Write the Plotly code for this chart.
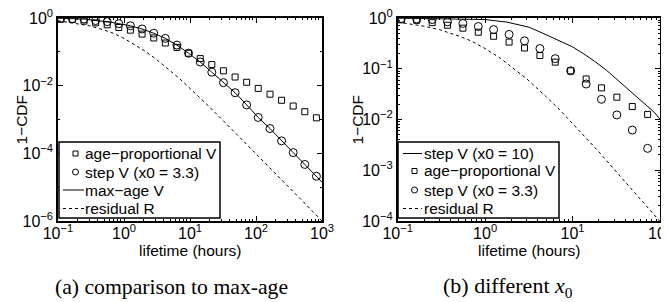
import plotly.graph_objects as go

# ---------------- data ----------------
# marker positions, lifetime in hours
x_markers = [0.11, 0.165, 0.248, 0.371, 0.557, 0.835, 1.25, 1.88, 2.82, 4.23,
             6.34, 9.51, 14.3, 21.4, 32.1, 48.2, 72.2, 108, 163, 244, 366, 549, 823]

age_prop_v = [0.92, 0.90, 0.81, 0.72, 0.63, 0.525, 0.437, 0.335, 0.257, 0.182,
              0.135, 0.091, 0.063, 0.042, 0.0275, 0.018, 0.0126, 0.0083, 0.0056,
              0.0037, 0.0025, 0.0017, 0.00112]

step_v_33 = [0.977, 0.955, 0.933, 0.84, 0.78, 0.68, 0.59, 0.475, 0.355, 0.25,
             0.158, 0.091, 0.050, 0.025, 0.0123, 0.0062, 0.0027, 0.00115, 5.4e-4,
             2.34e-4, 1.05e-4, 4.7e-5, 2.1e-5]

x_maxage = [0.1, 0.11, 0.165, 0.248, 0.371, 0.557, 0.835, 1.25, 1.88, 2.82, 4.23,
            6.34, 9.51, 14.3, 21.4, 32.1, 48.2, 72.2, 108, 163, 244, 366, 549, 823, 1000]
max_age_v = [0.985, 0.977, 0.955, 0.933, 0.84, 0.78, 0.68, 0.59, 0.475, 0.355, 0.25,
             0.158, 0.091, 0.050, 0.025, 0.0123, 0.0062, 0.0027, 0.00115, 5.4e-4,
             2.34e-4, 1.05e-4, 4.7e-5, 2.1e-5, 1.4e-5]

x_resid = [0.1, 0.2, 0.3, 0.5, 0.7, 1, 1.5, 2, 3, 5, 7, 10, 20, 50, 100, 200, 500, 1000]
residual_r = [0.83, 0.69, 0.59, 0.44, 0.35, 0.25, 0.16, 0.11, 0.063, 0.028, 0.016,
              0.0083, 0.0023, 3.8e-4, 9.8e-5, 2.5e-5, 4.0e-6, 1.0e-6]

x_step10 = [0.1, 0.316, 1, 1.78, 3.16, 4.47, 6.6, 10, 13.2, 17.8, 24.5, 31.6, 41.7, 64.6, 85.1, 100]
step_v_10 = [0.993, 0.977, 0.933, 0.83, 0.66, 0.51, 0.37, 0.27, 0.20, 0.141, 0.093,
             0.063, 0.042, 0.021, 0.0141, 0.0102]

n_right = 17  # markers shown in panel (b)

x_ticks_a = [0.1, 1, 10, 100, 1000]
x_ticktext_a = ["10<sup>\u22121</sup>", "10<sup>0</sup>", "10<sup>1</sup>", "10<sup>2</sup>", "10<sup>3</sup>"]
y_ticks_a = [1e-6, 1e-4, 1e-2, 1]
y_ticktext_a = ["10<sup>\u22126</sup>", "10<sup>\u22124</sup>", "10<sup>\u22122</sup>", "10<sup>0</sup>"]
x_ticks_b = [0.1, 1, 10, 100]
x_ticktext_b = ["10<sup>\u22121</sup>", "10<sup>0</sup>", "10<sup>1</sup>", "10<sup>2</sup>"]
y_ticks_b = [1e-4, 1e-3, 1e-2, 1e-1, 1]
y_ticktext_b = ["10<sup>\u22124</sup>", "10<sup>\u22123</sup>", "10<sup>\u22122</sup>",
                "10<sup>\u22121</sup>", "10<sup>0</sup>"]

legend_a = ["age\u2212proportional V", "step V (x0 = 3.3)", "max\u2212age V", "residual R"]
legend_b = ["step V (x0 = 10)", "age\u2212proportional V", "step V (x0 = 3.3)", "residual R"]

x_title = "lifetime (hours)"
y_title = "1\u2212CDF"

# ---------------- styling ----------------
OFF = 8                      # the page body adds an 8px margin
W, H = 669 - OFF, 302 - OFF
FONT = "Liberation Sans, Arial, Helvetica, sans-serif"
SERIF = "Liberation Serif, Times New Roman, serif"
BLACK = "black"
DASH = "3px,3px"


def px(x):
    return (x - OFF) / W


def py(y):
    return 1 - (y - OFF) / H


def minor_vals(lo, hi):
    vals = []
    for e in range(lo, hi):
        for m in range(2, 10):
            vals.append(m * 10.0 ** e)
    return vals


fig = go.Figure()

# ----- panel (a) -----
fig.add_trace(go.Scatter(x=x_markers, y=age_prop_v, mode="markers", xaxis="x", yaxis="y",
                         marker=dict(symbol="square-open", size=6, color=BLACK, line=dict(width=1))))
fig.add_trace(go.Scatter(x=x_markers, y=step_v_33, mode="markers", xaxis="x", yaxis="y",
                         marker=dict(symbol="circle-open", size=8, color=BLACK, line=dict(width=1))))
fig.add_trace(go.Scatter(x=x_maxage, y=max_age_v, mode="lines", xaxis="x", yaxis="y",
                         line=dict(color=BLACK, width=1)))
fig.add_trace(go.Scatter(x=x_resid, y=residual_r, mode="lines", xaxis="x", yaxis="y",
                         line=dict(color=BLACK, width=1, dash=DASH)))

# ----- panel (b) -----
n_res_b = len([v for v in x_resid if v <= 100])
fig.add_trace(go.Scatter(x=x_step10, y=step_v_10, mode="lines", xaxis="x2", yaxis="y2",
                         line=dict(color=BLACK, width=1)))
fig.add_trace(go.Scatter(x=x_markers[:n_right], y=age_prop_v[:n_right], mode="markers",
                         xaxis="x2", yaxis="y2",
                         marker=dict(symbol="square-open", size=6, color=BLACK, line=dict(width=1))))
fig.add_trace(go.Scatter(x=x_markers[:n_right], y=step_v_33[:n_right], mode="markers",
                         xaxis="x2", yaxis="y2",
                         marker=dict(symbol="circle-open", size=8, color=BLACK, line=dict(width=1))))
fig.add_trace(go.Scatter(x=x_resid[:n_res_b], y=residual_r[:n_res_b], mode="lines",
                         xaxis="x2", yaxis="y2",
                         line=dict(color=BLACK, width=1, dash=DASH)))

axis_common = dict(
    type="log", showgrid=False, zeroline=False, showline=True, linecolor=BLACK, linewidth=1.5,
    mirror="allticks", ticks="inside", ticklen=5, tickwidth=1, tickcolor=BLACK,
    tickmode="array", tickfont=dict(family=FONT, size=16, color=BLACK), automargin=False,
    ticklabeloverflow="allow",
)

y_dom = [py(221), py(18)]

# ---------------- hand-drawn legends (paper coords) ----------------
shapes = []
annotations = []


def add_legend(box, labels, kinds, sym_x0, sym_x1, text_x, rows):
    x0, y0, x1, y1 = box
    shapes.append(dict(type="rect", xref="paper", yref="paper", x0=px(x0), x1=px(x1),
                       y0=py(y1), y1=py(y0), line=dict(color=BLACK, width=1.5),
                       fillcolor="white", layer="above"))
    for lab, kind, yc in zip(labels, kinds, rows):
        cx = (sym_x0 + sym_x1) / 2 + 2
        if kind == "line" or kind == "dash":
            shapes.append(dict(type="line", xref="paper", yref="paper", x0=px(sym_x0), x1=px(sym_x1),
                               y0=py(yc), y1=py(yc), layer="above",
                               line=dict(color=BLACK, width=1, dash=(DASH if kind == "dash" else "solid"))))
        elif kind == "square":
            shapes.append(dict(type="rect", xref="paper", yref="paper", x0=px(cx - 2.5), x1=px(cx + 2.5),
                               y0=py(yc + 2.5), y1=py(yc - 2.5), layer="above",
                               line=dict(color=BLACK, width=1)))
        elif kind == "circle":
            shapes.append(dict(type="circle", xref="paper", yref="paper", x0=px(cx - 3), x1=px(cx + 3),
                               y0=py(yc + 3), y1=py(yc - 3), layer="above",
                               line=dict(color=BLACK, width=1)))
        annotations.append(dict(text=lab, x=px(text_x), y=py(yc), xref="paper", yref="paper",
                                showarrow=False, xanchor="left", yanchor="middle",
                                font=dict(family=FONT, size=15.5, color=BLACK)))


add_legend((59, 142, 220, 218), legend_a, ["square", "circle", "line", "dash"],
           63, 84, 83, [153.5, 172, 190, 208.5])
add_legend((398, 142, 559, 218), legend_b, ["line", "square", "circle", "dash"],
           403, 422, 422, [153.5, 171, 190, 208.5])

# axis titles
for xc in (190, 529):
    annotations.append(dict(text=x_title, x=px(xc), y=py(250), xref="paper", yref="paper",
                            showarrow=False, xanchor="center", yanchor="middle",
                            font=dict(family=FONT, size=15.5, color=BLACK)))
for xc in (21, 357):
    annotations.append(dict(text=y_title, x=px(xc), y=py(119.5), xref="paper", yref="paper",
                            showarrow=False, xanchor="center", yanchor="middle", textangle=-90,
                            font=dict(family=FONT, size=15.5, color=BLACK)))

annotations += [
    dict(text="(a) comparison to max-age", x=px(171), y=py(287), xref="paper", yref="paper",
         showarrow=False, xanchor="center", yanchor="middle",
         font=dict(family=SERIF, size=21.7, color=BLACK)),
    dict(text="(b) different <i>x</i><sub>0</sub>", x=px(508), y=py(287), xref="paper",
         yref="paper", showarrow=False, xanchor="center", yanchor="middle",
         font=dict(family=SERIF, size=22, color=BLACK)),
]

fig.update_layout(
    width=W, height=H,
    margin=dict(l=0, r=0, t=0, b=0, autoexpand=False),
    paper_bgcolor="white", plot_bgcolor="white",
    showlegend=False,
    font=dict(family=FONT, size=15, color=BLACK),
    xaxis=dict(axis_common, domain=[px(58), px(322)], range=[-1, 3], anchor="y",
               tickvals=x_ticks_a, ticktext=x_ticktext_a, ticklabelstandoff=-3,
               minor=dict(ticks="inside", ticklen=2.5, tickcolor=BLACK, tickvals=minor_vals(-1, 3))),
    yaxis=dict(axis_common, domain=y_dom, range=[-6, 0], anchor="x",
               tickvals=y_ticks_a, ticktext=y_ticktext_a,
               minor=dict(ticks="inside", ticklen=2.5, tickcolor=BLACK, tickvals=[1e-5, 1e-3, 1e-1])),
    xaxis2=dict(axis_common, domain=[px(397.7), px(660)], range=[-1, 2], anchor="y2",
                tickvals=x_ticks_b, ticktext=x_ticktext_b, ticklabelstandoff=-3,
                minor=dict(ticks="inside", ticklen=2.5, tickcolor=BLACK, tickvals=minor_vals(-1, 2))),
    yaxis2=dict(axis_common, domain=y_dom, range=[-4, 0], anchor="x2",
                tickvals=y_ticks_b, ticktext=y_ticktext_b,
                minor=dict(ticks="inside", ticklen=2.5, tickcolor=BLACK, tickvals=minor_vals(-4, 0))),
    shapes=shapes,
    annotations=annotations,
)

fig.write_html("out.html", config={"displayModeBar": False})
